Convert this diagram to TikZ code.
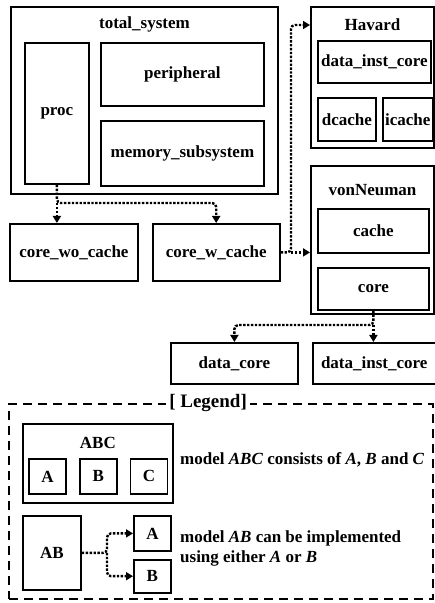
\documentclass[tikz,border=0pt]{standalone}
\usepackage{fontspec}
\setmainfont{Liberation Serif}
\usetikzlibrary{arrows.meta, positioning}

\begin{document}
\begin{tikzpicture}[
    x=1pt, y=1pt,
    node distance=13pt and 13pt,
    >={Triangle[length=7pt, width=8pt]},
    % Styles
    modelbox/.style={rectangle, draw=black, line width=1.8pt, inner sep=1pt, font=\fontsize{17}{20}\selectfont\bfseries, align=center},
    outerbox/.style={rectangle, draw=black, line width=2pt, inner sep=0pt},
    titletext/.style={font=\fontsize{17}{20}\selectfont\bfseries, inner sep=0pt},
    notetext/.style={font=\fontsize{17}{20}\selectfont\bfseries, inner sep=0pt, align=left, anchor=west},
    legendbox/.style={rectangle, draw=black, line width=2.2pt, dash pattern=on 9pt off 6pt, inner sep=0pt},
    implarrow/.style={->, line width=2.4pt, dash pattern=on 2.4pt off 1.5pt, rounded corners=4pt},
]
\useasboundingbox (0,0) rectangle (435,603);

% === TOTAL SYSTEM ===
\node[outerbox, minimum width=267pt, minimum height=187pt, anchor=north west] (total) at (10,597) {};
\node[titletext] (totaltitle) at ([yshift=-18pt]total.north) {total\_system};
\node[modelbox, minimum width=64pt, minimum height=141pt, anchor=north west] (proc) at (24,561) {proc};
\node[modelbox, minimum width=163pt, minimum height=63pt, anchor=north west] (peripheral) at (100,561) {peripheral};
\node[modelbox, minimum width=163pt, minimum height=65pt, below=13pt of peripheral] (memsub) {memory\_subsystem};

% === CORES ===
\node[modelbox, minimum width=128pt, minimum height=57pt, anchor=north west] (cwoc) at (9,380) {core\_wo\_cache};
\node[modelbox, minimum width=127pt, minimum height=57pt, right=13pt of cwoc] (cwc) {core\_w\_cache};

% === HAVARD ===
\node[outerbox, minimum width=123pt, minimum height=141pt, anchor=north west] (havard) at (310,597) {};
\node[titletext] (havardtitle) at ([yshift=-19pt]havard.north) {Havard};
\node[modelbox, minimum width=113pt, minimum height=42pt, anchor=north west] (hvdic) at (317,563) {data\_inst\_core};
\node[modelbox, minimum width=58pt, minimum height=43pt, anchor=north west] (dcache) at (317,506) {dcache};
\node[modelbox, minimum width=50pt, minimum height=43pt, right=5pt of dcache] (icache) {icache};

% === VONNEUMAN ===
\node[outerbox, minimum width=123pt, minimum height=148pt, anchor=north west] (vn) at (310,438) {};
\node[titletext] (vntitle) at ([yshift=-25pt]vn.north) {vonNeuman};
\node[modelbox, minimum width=111pt, minimum height=44pt, anchor=north west] (cache) at (317,395) {cache};
\node[modelbox, minimum width=111pt, minimum height=42pt, below=13pt of cache] (core) {core};

% === CORE VARIANTS ===
\node[modelbox, minimum width=127pt, minimum height=41pt, anchor=north west] (dc) at (170,261) {data\_core};
\node[modelbox, minimum width=123pt, minimum height=41pt, right=13pt of dc] (dic) {data\_inst\_core};

% === IMPLEMENTATION ARROWS ===
\coordinate (split1) at (proc.south |- 0,400);
\draw[implarrow] (proc.south) -- (split1) -| (cwc.north);
\draw[implarrow] (split1) -- (split1 |- cwoc.north);

\coordinate (split2) at (291,0 |- cwc.east);
\draw[implarrow] (cwc.east) -- (split2) |- (havardtitle -| havard.west);
\draw[implarrow] (split2) -- (split2 -| vn.west);

\coordinate (split3) at (core.south |- 0,278);
\draw[implarrow] (core.south) -- (split3) -| (dc.north);
\draw[implarrow] (split3) -- (split3 |- dic.north);

% === LEGEND ===
\node[legendbox, minimum width=424pt, minimum height=195pt, anchor=north west] (legend) at (8,200) {};
\node[titletext, font=\fontsize{19}{22}\selectfont\bfseries, fill=white, inner xsep=3pt, inner ysep=1pt] (legendtitle) at ([xshift=-13pt]legend.north) {[ Legend]};

\node[modelbox, minimum width=150pt, minimum height=79pt, anchor=north west] (abc) at (22,180) {};
\node[titletext] (abctitle) at ([yshift=-20pt]abc.north) {ABC};
\node[modelbox, minimum width=37pt, minimum height=35pt, anchor=north west] (a) at (28,145) {A};
\node[modelbox, minimum width=37pt, minimum height=35pt, right=12pt of a] (b) {B};
\node[modelbox, minimum width=37pt, minimum height=35pt, right=12pt of b] (c) {C};
\node[notetext] (abcnote) at (180,143) {model \textit{ABC} consists of \textit{A}, \textit{B} and \textit{C}};

\node[modelbox, minimum width=58pt, minimum height=74pt, anchor=north west] (ab) at (22,88) {AB};
\node[modelbox, minimum width=37pt, minimum height=35pt, anchor=north west] (a2) at (133,88) {A};
\node[modelbox, minimum width=37pt, minimum height=33pt, below=7pt of a2] (b2) {B};
\coordinate (split4) at (107,0 |- ab.east);
\draw[implarrow] (ab.east) -- (split4) |- (a2.west);
\draw[implarrow] (split4) |- (b2.west);
\node[notetext] (abnote) at (180,55) {model \textit{AB} can be implemented\\using either \textit{A} or \textit{B}};

\end{tikzpicture}
\end{document}
